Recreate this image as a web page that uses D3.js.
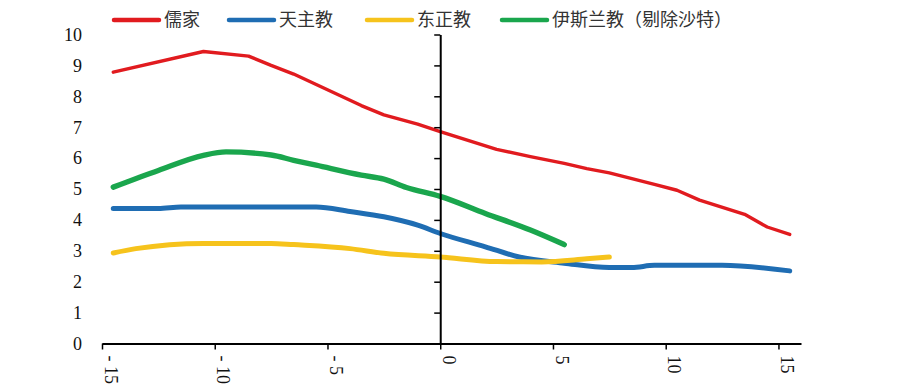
<!DOCTYPE html>
<html>
<head>
<meta charset="utf-8">
<script src="https://cdn.jsdelivr.net/npm/d3@7"></script>
<style>
  body { margin: 0; background: #fff; }
  svg { display: block; }
</style>
</head>
<body>
<div id="chart"></div>
<script>
// Data: [year offset, value]
const ruJia = [[-14.5, 8.78], [-10.5, 9.45], [-8.5, 9.3], [-7.5, 9.0], [-6.5, 8.72], [-5.5, 8.38],
  [-3.5, 7.7], [-2.5, 7.4], [-1, 7.1], [0, 6.86], [2.5, 6.28], [4, 6.05], [5.5, 5.83], [6.5, 5.66],
  [7.5, 5.52], [9.5, 5.15], [10.5, 4.96], [11.5, 4.64], [13.5, 4.18], [14.5, 3.77], [15.5, 3.53]];
const tianZhu = [[-14.5, 4.37], [-12.5, 4.37], [-11.5, 4.42], [-8, 4.42], [-5.5, 4.42], [-4, 4.27],
  [-2.5, 4.1], [-1, 3.83], [0, 3.56], [2, 3.13], [3.5, 2.8], [5.5, 2.6], [7.5, 2.46], [8.5, 2.46],
  [9.5, 2.53], [12.5, 2.53], [15.5, 2.35]];
const dongZheng = [[-14.5, 2.93], [-13.5, 3.07], [-10.5, 3.24], [-7.5, 3.24], [-6.5, 3.2], [-4, 3.07],
  [-2.5, 2.92], [0, 2.8], [2.5, 2.65], [4.5, 2.64], [6.5, 2.74], [7.5, 2.8]];
const yiSiLan = [[-14.5, 5.06], [-12.5, 5.6], [-10.5, 6.09], [-9.5, 6.2], [-7.5, 6.1], [-6.5, 5.93],
  [-5.5, 5.77], [-3.5, 5.45], [-2.5, 5.32], [-1.5, 5.05], [0, 4.76], [2, 4.21], [4, 3.67], [5.5, 3.2]];

const seriesNames = ["儒家", "天主教", "东正教", "伊斯兰教（剔除沙特）"];
const seriesColors = ["#e11b1f", "#1f6db3", "#f6c31c", "#1aa64d"];
const seriesWidths = [3.4, 5, 5, 5.4];
const seriesData = [ruJia, tianZhu, dongZheng, yiSiLan];

const xTicks = [-15, -10, -5, 0, 5, 10, 15];
const yTicks = [0, 1, 2, 3, 4, 5, 6, 7, 8, 9, 10];

const width = 907, height = 387;

const svg = d3.select("#chart").append("svg")
  .attr("width", width)
  .attr("height", height);

const x = d3.scaleLinear().domain([-15, 16]).range([102, 801]);
const y = d3.scaleLinear().domain([0, 10]).range([343.5, 34.5]);

// --- lines ---
const line = d3.line()
  .x(d => x(d[0]))
  .y(d => y(d[1]));

seriesData.forEach((data, i) => {
  svg.append("path")
    .datum(data)
    .attr("fill", "none")
    .attr("stroke", seriesColors[i])
    .attr("stroke-width", seriesWidths[i])
    .attr("stroke-linecap", "round")
    .attr("stroke-linejoin", "round")
    .attr("d", line.curve(i === 0 ? d3.curveLinear : d3.curveMonotoneX));
});

// --- x axis ---
const xAxis = svg.append("g")
  .attr("transform", `translate(0,${y(0)})`)
  .call(d3.axisBottom(x).tickValues(xTicks).tickSize(6).tickSizeOuter(0).tickFormat(d => d < 0 ? "- " + Math.abs(d) : d));
xAxis.select(".domain").attr("stroke", "#000").attr("stroke-width", 2);
xAxis.selectAll(".tick line").attr("stroke", "#000").attr("stroke-width", 1.5);
xAxis.selectAll(".tick text")
  .attr("transform", "rotate(90)")
  .attr("x", 12)
  .attr("y", 0)
  .attr("dy", "-0.12em")
  .attr("text-anchor", "start")
  .style("font-family", "'Liberation Serif', 'Times New Roman', serif")
  .style("font-size", "18px")
  .attr("fill", "#111");

// --- y axis (at x = 0) ---
const yAxis = svg.append("g")
  .attr("transform", `translate(${x(0)},0)`)
  .call(d3.axisLeft(y).tickValues(yTicks).tickSize(6).tickSizeOuter(0).tickFormat(""));
yAxis.select(".domain").attr("stroke", "#000").attr("stroke-width", 2);
yAxis.selectAll(".tick line").attr("stroke", "#000").attr("stroke-width", 1.5);

// y labels sit far left of the axis
svg.append("g")
  .selectAll("text")
  .data(yTicks)
  .enter()
  .append("text")
  .attr("x", 82)
  .attr("y", d => y(d))
  .attr("dy", "0.35em")
  .attr("text-anchor", "end")
  .style("font-family", "'Liberation Serif', 'Times New Roman', serif")
  .style("font-size", "18px")
  .attr("fill", "#111")
  .text(d => d);

// --- legend ---
const legendX = [112, 227, 365, 500];
const legend = svg.append("g").attr("class", "legend");
seriesNames.forEach((name, i) => {
  const g = legend.append("g").attr("transform", `translate(${legendX[i]},20)`);
  g.append("line")
    .attr("x1", 2).attr("x2", 47)
    .attr("y1", 0).attr("y2", 0)
    .attr("stroke", seriesColors[i])
    .attr("stroke-width", 4.5)
    .attr("stroke-linecap", "round");
  g.append("text")
    .attr("x", 52)
    .attr("y", 0)
    .attr("dy", "0.36em")
    .style("font-family", "'Noto Sans CJK SC', sans-serif")
    .style("font-size", "18px")
    .attr("fill", "#333")
    .text(name);
});
</script>
</body>
</html>
